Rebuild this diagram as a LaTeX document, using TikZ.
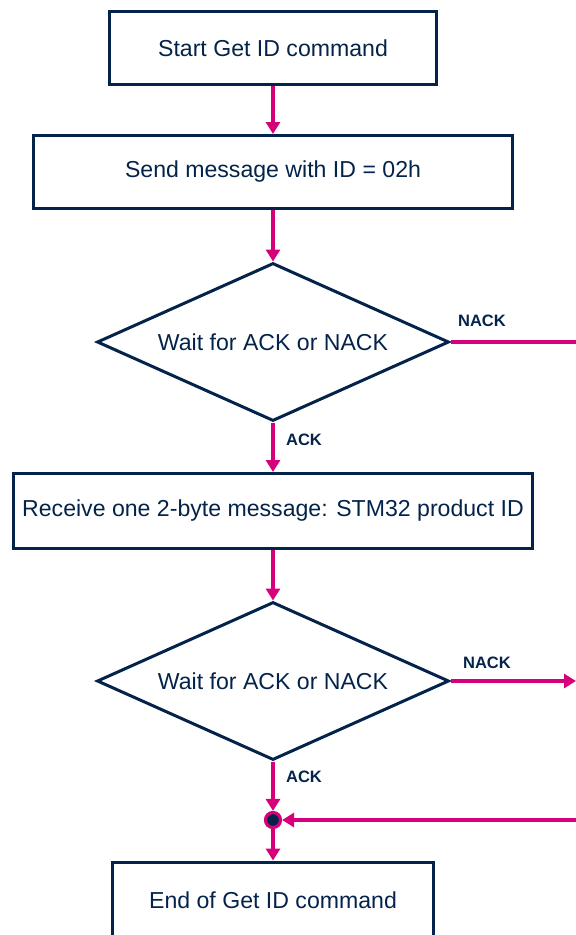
\documentclass[tikz,border=0pt]{standalone}
\usepackage{fontspec}
\setmainfont{Liberation Sans}
\usetikzlibrary{shapes.geometric,arrows.meta}
\definecolor{stnavy}{RGB}{3,35,75}
\definecolor{stmag}{RGB}{214,0,122}
\begin{document}
\begin{tikzpicture}[x=1pt,y=1pt,
  box/.style={draw=stnavy,line width=3pt,rectangle,inner sep=0pt,text=stnavy,
    font=\fontsize{23.1}{27}\selectfont},
  dia/.style={draw=stnavy,line width=3pt,diamond,aspect=2.2,inner sep=0pt,text=stnavy,
    minimum width=352pt,minimum height=158pt,font=\fontsize{23.1}{27}\selectfont},
  flow/.style={draw=stmag,line width=3.2pt},
  arr/.style={flow,-{Triangle[length=12pt,width=14pt]}},
  lab/.style={text=stnavy,font=\bfseries\fontsize{16.5}{19}\selectfont,inner sep=0pt}]
\useasboundingbox (0,0) rectangle (576,-935);
\node[box,minimum width=327pt,minimum height=73pt] (b1) at (273,-48) {Start Get ID command};
\node[box,minimum width=479pt,minimum height=73pt] (b2) at (273,-172) {Send message with ID = 02h};
\node[dia] (d1) at (273,-342) {Wait for ACK or NACK};
\node[box,minimum width=519pt,minimum height=75pt] (b3) at (273,-511) {Receive one 2-byte message: STM32 product ID};
\node[dia] (d2) at (273,-681) {Wait for ACK or NACK};
\node[circle,draw=stmag,fill=stnavy,line width=3.2pt,minimum size=15pt,inner sep=0pt] (j) at (273,-820) {};
\node[box,minimum width=321pt,minimum height=76pt] (b4) at (273,-900) {End of Get ID command};
\coordinate (r1) at (576,-342);
\coordinate (r2) at (576,-681);
\coordinate (r3) at (576,-820);
\draw[arr] (b1) -- (b2);
\draw[arr] (b2) -- (d1);
\draw[arr] (d1) -- (b3);
\draw[arr] (b3) -- (d2);
\draw[arr] (d2) -- (j);
\draw[arr] (j) -- (b4);
\draw[flow] (d1.east) -- (r1);
\draw[arr] (d2.east) -- (r2);
\draw[arr] (r3) -- (j);
\node[lab] (n1) at (482,-321) {NACK};
\node[lab] (n2) at (487,-663) {NACK};
\node[lab] (a1) at (304,-440) {ACK};
\node[lab] (a2) at (304,-777) {ACK};
\end{tikzpicture}
\end{document}
